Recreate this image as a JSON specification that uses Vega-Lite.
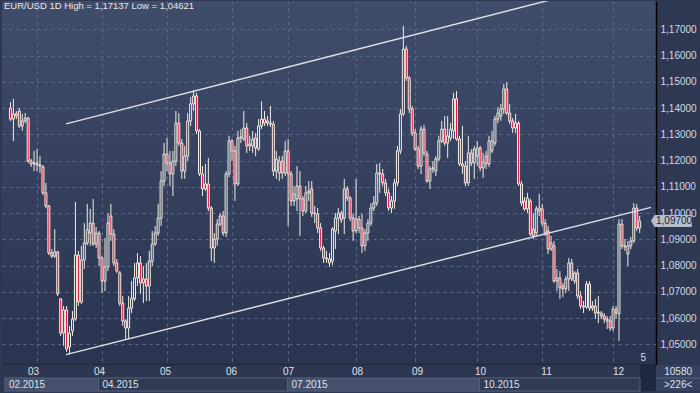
{
"$schema": "https://vega.github.io/schema/vega-lite/v6.json",
"background": "#2e3853",
"padding": {"left": 2, "top": 0, "right": 0, "bottom": 3},
"spacing": 0,
"config": {"view": {"stroke": null}, "font": "Liberation Sans", "axis": {"labelOverlap": false}},
"resolve": {"scale": {"x": "independent", "y": "independent"}},
"datasets": {
"candles": [
{"i":0,"o":1.1400,"h":1.1423,"l":1.1351,"c":1.1358},
{"i":1,"o":1.1358,"h":1.1435,"l":1.1275,"c":1.1378},
{"i":2,"o":1.1378,"h":1.1389,"l":1.1358,"c":1.1370},
{"i":3,"o":1.1389,"h":1.1400,"l":1.1324,"c":1.1332},
{"i":4,"o":1.1332,"h":1.1378,"l":1.1313,"c":1.1351},
{"i":5,"o":1.1351,"h":1.1381,"l":1.1343,"c":1.1362},
{"i":6,"o":1.1362,"h":1.1366,"l":1.1191,"c":1.1198},
{"i":7,"o":1.1198,"h":1.1206,"l":1.1176,"c":1.1187},
{"i":8,"o":1.1187,"h":1.1237,"l":1.1160,"c":1.1191},
{"i":9,"o":1.1191,"h":1.1244,"l":1.1160,"c":1.1183},
{"i":10,"o":1.1183,"h":1.1217,"l":1.1153,"c":1.1179},
{"i":11,"o":1.1176,"h":1.1183,"l":1.1069,"c":1.1077},
{"i":12,"o":1.1077,"h":1.1115,"l":1.1019,"c":1.1027},
{"i":13,"o":1.1027,"h":1.1031,"l":1.0840,"c":1.0848},
{"i":14,"o":1.0848,"h":1.0863,"l":1.0829,"c":1.0836},
{"i":15,"o":1.0836,"h":1.0939,"l":1.0829,"c":1.0852},
{"i":16,"o":1.0852,"h":1.0856,"l":1.0684,"c":1.0692},
{"i":17,"o":1.0673,"h":1.0676,"l":1.0532,"c":1.0543},
{"i":18,"o":1.0543,"h":1.0646,"l":1.0494,"c":1.0631},
{"i":19,"o":1.0631,"h":1.0646,"l":1.0471,"c":1.0482},
{"i":20,"o":1.0490,"h":1.0570,"l":1.04621,"c":1.0543},
{"i":21,"o":1.0551,"h":1.0627,"l":1.0532,"c":1.0596},
{"i":22,"o":1.0596,"h":1.1042,"l":1.0589,"c":1.0840},
{"i":23,"o":1.0840,"h":1.0856,"l":1.0646,"c":1.0661},
{"i":24,"o":1.0661,"h":1.0875,"l":1.0654,"c":1.0821},
{"i":25,"o":1.0821,"h":1.0962,"l":1.0787,"c":1.0886},
{"i":26,"o":1.0886,"h":1.1035,"l":1.0878,"c":1.0936},
{"i":27,"o":1.0924,"h":1.1016,"l":1.0875,"c":1.0962},
{"i":28,"o":1.0962,"h":1.1054,"l":1.0875,"c":1.0882},
{"i":29,"o":1.0882,"h":1.0947,"l":1.0867,"c":1.0924},
{"i":30,"o":1.0924,"h":1.0932,"l":1.0798,"c":1.0829},
{"i":31,"o":1.0829,"h":1.0836,"l":1.0696,"c":1.0741},
{"i":32,"o":1.0741,"h":1.0905,"l":1.0703,"c":1.0795},
{"i":33,"o":1.0795,"h":1.1000,"l":1.0779,"c":1.0962},
{"i":34,"o":1.0989,"h":1.1035,"l":1.0894,"c":1.0920},
{"i":35,"o":1.0920,"h":1.0939,"l":1.0798,"c":1.0810},
{"i":36,"o":1.0810,"h":1.0825,"l":1.0772,"c":1.0779},
{"i":37,"o":1.0772,"h":1.0779,"l":1.0646,"c":1.0657},
{"i":38,"o":1.0657,"h":1.0684,"l":1.0570,"c":1.0589},
{"i":39,"o":1.0589,"h":1.0596,"l":1.0520,"c":1.0562},
{"i":40,"o":1.0562,"h":1.0684,"l":1.0520,"c":1.0638},
{"i":41,"o":1.0638,"h":1.0741,"l":1.0619,"c":1.0676},
{"i":42,"o":1.0673,"h":1.0810,"l":1.0665,"c":1.0753},
{"i":43,"o":1.0753,"h":1.0848,"l":1.0722,"c":1.0810},
{"i":44,"o":1.0810,"h":1.0836,"l":1.0692,"c":1.0734},
{"i":45,"o":1.0734,"h":1.0798,"l":1.0657,"c":1.0749},
{"i":46,"o":1.0749,"h":1.0810,"l":1.0665,"c":1.0722},
{"i":47,"o":1.0722,"h":1.0856,"l":1.0665,"c":1.0817},
{"i":48,"o":1.0817,"h":1.0932,"l":1.0798,"c":1.0882},
{"i":49,"o":1.0882,"h":1.0951,"l":1.0875,"c":1.0924},
{"i":50,"o":1.0924,"h":1.1035,"l":1.0913,"c":1.0981},
{"i":51,"o":1.0981,"h":1.1160,"l":1.0951,"c":1.1122},
{"i":52,"o":1.1122,"h":1.1267,"l":1.1103,"c":1.1225},
{"i":53,"o":1.1225,"h":1.1286,"l":1.1160,"c":1.1191},
{"i":54,"o":1.1191,"h":1.1237,"l":1.1103,"c":1.1149},
{"i":55,"o":1.1149,"h":1.1237,"l":1.1065,"c":1.1198},
{"i":56,"o":1.1198,"h":1.1389,"l":1.1179,"c":1.1343},
{"i":57,"o":1.1343,"h":1.1381,"l":1.1256,"c":1.1267},
{"i":58,"o":1.1267,"h":1.1282,"l":1.1130,"c":1.1160},
{"i":59,"o":1.1160,"h":1.1256,"l":1.1130,"c":1.1217},
{"i":60,"o":1.1217,"h":1.1381,"l":1.1198,"c":1.1351},
{"i":61,"o":1.1351,"h":1.1442,"l":1.1332,"c":1.1416},
{"i":62,"o":1.1416,"h":1.1469,"l":1.1389,"c":1.1446},
{"i":63,"o":1.1446,"h":1.1458,"l":1.1301,"c":1.1313},
{"i":64,"o":1.1313,"h":1.1320,"l":1.1141,"c":1.1149},
{"i":65,"o":1.1149,"h":1.1179,"l":1.1065,"c":1.1092},
{"i":66,"o":1.1092,"h":1.1187,"l":1.1084,"c":1.1111},
{"i":67,"o":1.1111,"h":1.1210,"l":1.1008,"c":1.1019},
{"i":68,"o":1.1019,"h":1.1027,"l":1.0817,"c":1.0867},
{"i":69,"o":1.0867,"h":1.0924,"l":1.0810,"c":1.0901},
{"i":70,"o":1.0901,"h":1.0977,"l":1.0875,"c":1.0958},
{"i":71,"o":1.0958,"h":1.1000,"l":1.0951,"c":1.0989},
{"i":72,"o":1.0989,"h":1.1008,"l":1.0913,"c":1.0924},
{"i":73,"o":1.0924,"h":1.1160,"l":1.0909,"c":1.1149},
{"i":74,"o":1.1149,"h":1.1294,"l":1.1137,"c":1.1275},
{"i":75,"o":1.1275,"h":1.1282,"l":1.1198,"c":1.1237},
{"i":76,"o":1.1237,"h":1.1256,"l":1.1046,"c":1.1111},
{"i":77,"o":1.1111,"h":1.1313,"l":1.1103,"c":1.1286},
{"i":78,"o":1.1286,"h":1.1320,"l":1.1267,"c":1.1290},
{"i":79,"o":1.1282,"h":1.1389,"l":1.1275,"c":1.1324},
{"i":80,"o":1.1324,"h":1.1343,"l":1.1229,"c":1.1256},
{"i":81,"o":1.1256,"h":1.1294,"l":1.1237,"c":1.1263},
{"i":82,"o":1.1256,"h":1.1313,"l":1.1229,"c":1.1282},
{"i":83,"o":1.1286,"h":1.1305,"l":1.1217,"c":1.1248},
{"i":84,"o":1.1244,"h":1.1358,"l":1.1237,"c":1.1332},
{"i":85,"o":1.1332,"h":1.1427,"l":1.1320,"c":1.1358},
{"i":86,"o":1.1358,"h":1.1389,"l":1.1332,"c":1.1343},
{"i":87,"o":1.1351,"h":1.1370,"l":1.1332,"c":1.1343},
{"i":88,"o":1.1339,"h":1.1408,"l":1.1328,"c":1.1343},
{"i":89,"o":1.1339,"h":1.1351,"l":1.1141,"c":1.1160},
{"i":90,"o":1.1160,"h":1.1237,"l":1.1130,"c":1.1206},
{"i":91,"o":1.1153,"h":1.1217,"l":1.1122,"c":1.1198},
{"i":92,"o":1.1198,"h":1.1217,"l":1.1130,"c":1.1153},
{"i":93,"o":1.1153,"h":1.1275,"l":1.1141,"c":1.1237},
{"i":94,"o":1.1237,"h":1.1282,"l":1.0951,"c":1.1149},
{"i":95,"o":1.1149,"h":1.1160,"l":1.1027,"c":1.1046},
{"i":96,"o":1.1046,"h":1.1103,"l":1.1027,"c":1.1073},
{"i":97,"o":1.1054,"h":1.1179,"l":1.1008,"c":1.1103},
{"i":98,"o":1.1103,"h":1.1160,"l":1.0913,"c":1.1054},
{"i":99,"o":1.1054,"h":1.1065,"l":1.0989,"c":1.1008},
{"i":100,"o":1.1008,"h":1.1103,"l":1.1000,"c":1.1077},
{"i":101,"o":1.1077,"h":1.1122,"l":1.1046,"c":1.1084},
{"i":102,"o":1.1092,"h":1.1122,"l":1.0985,"c":1.1000},
{"i":103,"o":1.1000,"h":1.1027,"l":1.0962,"c":1.0997},
{"i":104,"o":1.0997,"h":1.1019,"l":1.0924,"c":1.0943},
{"i":105,"o":1.0943,"h":1.0962,"l":1.0856,"c":1.0867},
{"i":106,"o":1.0867,"h":1.0875,"l":1.0810,"c":1.0829},
{"i":107,"o":1.0829,"h":1.0856,"l":1.0810,"c":1.0825},
{"i":108,"o":1.0810,"h":1.0848,"l":1.0795,"c":1.0825},
{"i":109,"o":1.0817,"h":1.0947,"l":1.0802,"c":1.0939},
{"i":110,"o":1.0932,"h":1.1000,"l":1.0863,"c":1.0981},
{"i":111,"o":1.0981,"h":1.1019,"l":1.0920,"c":1.1000},
{"i":112,"o":1.1000,"h":1.1008,"l":1.0962,"c":1.0974},
{"i":113,"o":1.0981,"h":1.1130,"l":1.0920,"c":1.1092},
{"i":114,"o":1.1092,"h":1.1103,"l":1.1046,"c":1.1057},
{"i":115,"o":1.1057,"h":1.1065,"l":1.0970,"c":1.0981},
{"i":116,"o":1.0981,"h":1.0997,"l":1.0894,"c":1.0932},
{"i":117,"o":1.0932,"h":1.1130,"l":1.0924,"c":1.0977},
{"i":118,"o":1.0977,"h":1.0989,"l":1.0924,"c":1.0943},
{"i":119,"o":1.0943,"h":1.0997,"l":1.0848,"c":1.0875},
{"i":120,"o":1.0875,"h":1.0939,"l":1.0856,"c":1.0924},
{"i":121,"o":1.0924,"h":1.0977,"l":1.0894,"c":1.0962},
{"i":122,"o":1.0962,"h":1.1038,"l":1.0951,"c":1.1019},
{"i":123,"o":1.1019,"h":1.1065,"l":1.1008,"c":1.1038},
{"i":124,"o":1.1038,"h":1.1187,"l":1.1027,"c":1.1153},
{"i":125,"o":1.1153,"h":1.1191,"l":1.1077,"c":1.1149},
{"i":126,"o":1.1149,"h":1.1168,"l":1.1103,"c":1.1115},
{"i":127,"o":1.1115,"h":1.1130,"l":1.1065,"c":1.1077},
{"i":128,"o":1.1077,"h":1.1092,"l":1.1008,"c":1.1019},
{"i":129,"o":1.1019,"h":1.1065,"l":1.1000,"c":1.1046},
{"i":130,"o":1.1046,"h":1.1130,"l":1.1016,"c":1.1115},
{"i":131,"o":1.1115,"h":1.1256,"l":1.1103,"c":1.1237},
{"i":132,"o":1.1237,"h":1.1397,"l":1.1225,"c":1.1378},
{"i":133,"o":1.1378,"h":1.17137,"l":1.1370,"c":1.1625},
{"i":134,"o":1.1625,"h":1.1637,"l":1.1503,"c":1.1515},
{"i":135,"o":1.1515,"h":1.1522,"l":1.1381,"c":1.1397},
{"i":136,"o":1.1397,"h":1.1408,"l":1.1294,"c":1.1305},
{"i":137,"o":1.1305,"h":1.1320,"l":1.1237,"c":1.1244},
{"i":138,"o":1.1244,"h":1.1256,"l":1.1168,"c":1.1179},
{"i":139,"o":1.1179,"h":1.1332,"l":1.1149,"c":1.1320},
{"i":140,"o":1.1320,"h":1.1336,"l":1.1217,"c":1.1229},
{"i":141,"o":1.1225,"h":1.1237,"l":1.1115,"c":1.1122},
{"i":142,"o":1.1122,"h":1.1179,"l":1.1092,"c":1.1168},
{"i":143,"o":1.1168,"h":1.1198,"l":1.1153,"c":1.1172},
{"i":144,"o":1.1160,"h":1.1217,"l":1.1141,"c":1.1206},
{"i":145,"o":1.1206,"h":1.1294,"l":1.1198,"c":1.1275},
{"i":146,"o":1.1275,"h":1.1351,"l":1.1267,"c":1.1320},
{"i":147,"o":1.1320,"h":1.1370,"l":1.1256,"c":1.1267},
{"i":148,"o":1.1267,"h":1.1370,"l":1.1210,"c":1.1294},
{"i":149,"o":1.1286,"h":1.1343,"l":1.1275,"c":1.1320},
{"i":150,"o":1.1313,"h":1.1458,"l":1.1282,"c":1.1435},
{"i":151,"o":1.1435,"h":1.1465,"l":1.1275,"c":1.1282},
{"i":152,"o":1.1282,"h":1.1294,"l":1.1179,"c":1.1187},
{"i":153,"o":1.1187,"h":1.1332,"l":1.1149,"c":1.1179},
{"i":154,"o":1.1179,"h":1.1198,"l":1.1103,"c":1.1115},
{"i":155,"o":1.1115,"h":1.1294,"l":1.1103,"c":1.1229},
{"i":156,"o":1.1229,"h":1.1244,"l":1.1179,"c":1.1191},
{"i":157,"o":1.1191,"h":1.1256,"l":1.1130,"c":1.1244},
{"i":158,"o":1.1217,"h":1.1275,"l":1.1179,"c":1.1248},
{"i":159,"o":1.1248,"h":1.1256,"l":1.1160,"c":1.1172},
{"i":160,"o":1.1172,"h":1.1229,"l":1.1134,"c":1.1195},
{"i":161,"o":1.1217,"h":1.1237,"l":1.1168,"c":1.1187},
{"i":162,"o":1.1187,"h":1.1294,"l":1.1176,"c":1.1275},
{"i":163,"o":1.1237,"h":1.1313,"l":1.1229,"c":1.1275},
{"i":164,"o":1.1267,"h":1.1370,"l":1.1256,"c":1.1358},
{"i":165,"o":1.1358,"h":1.1404,"l":1.1343,"c":1.1381},
{"i":166,"o":1.1370,"h":1.1416,"l":1.1351,"c":1.1397},
{"i":167,"o":1.1397,"h":1.1492,"l":1.1378,"c":1.1473},
{"i":168,"o":1.1473,"h":1.1499,"l":1.1374,"c":1.1381},
{"i":169,"o":1.1381,"h":1.1416,"l":1.1339,"c":1.1351},
{"i":170,"o":1.1351,"h":1.1362,"l":1.1305,"c":1.1324},
{"i":171,"o":1.1324,"h":1.1378,"l":1.1305,"c":1.1343},
{"i":172,"o":1.1343,"h":1.1351,"l":1.1103,"c":1.1111},
{"i":173,"o":1.1111,"h":1.1122,"l":1.1027,"c":1.1038},
{"i":174,"o":1.1046,"h":1.1061,"l":1.1008,"c":1.1016},
{"i":175,"o":1.1016,"h":1.1077,"l":1.1000,"c":1.1057},
{"i":176,"o":1.1046,"h":1.1054,"l":1.0913,"c":1.0920},
{"i":177,"o":1.0939,"h":1.1000,"l":1.0901,"c":1.0913},
{"i":178,"o":1.0924,"h":1.1027,"l":1.0913,"c":1.1016},
{"i":179,"o":1.1008,"h":1.1073,"l":1.0989,"c":1.1019},
{"i":180,"o":1.1016,"h":1.1035,"l":1.0951,"c":1.0962},
{"i":181,"o":1.0962,"h":1.0977,"l":1.0913,"c":1.0924},
{"i":182,"o":1.0932,"h":1.0951,"l":1.0844,"c":1.0863},
{"i":183,"o":1.0863,"h":1.0913,"l":1.0856,"c":1.0886},
{"i":184,"o":1.0875,"h":1.0894,"l":1.0734,"c":1.0741},
{"i":185,"o":1.0741,"h":1.0787,"l":1.0703,"c":1.0753},
{"i":186,"o":1.0753,"h":1.0779,"l":1.0673,"c":1.0715},
{"i":187,"o":1.0722,"h":1.0734,"l":1.0680,"c":1.0711},
{"i":188,"o":1.0711,"h":1.0760,"l":1.0696,"c":1.0749},
{"i":189,"o":1.0749,"h":1.0829,"l":1.0703,"c":1.0810},
{"i":190,"o":1.0810,"h":1.0825,"l":1.0741,"c":1.0749},
{"i":191,"o":1.0741,"h":1.0779,"l":1.0730,"c":1.0772},
{"i":192,"o":1.0772,"h":1.0787,"l":1.0673,"c":1.0684},
{"i":193,"o":1.0684,"h":1.0703,"l":1.0635,"c":1.0646},
{"i":194,"o":1.0646,"h":1.0665,"l":1.0619,"c":1.0642},
{"i":195,"o":1.0642,"h":1.0741,"l":1.0635,"c":1.0730},
{"i":196,"o":1.0730,"h":1.0741,"l":1.0627,"c":1.0638},
{"i":197,"o":1.0638,"h":1.0665,"l":1.0627,"c":1.0646},
{"i":198,"o":1.0646,"h":1.0673,"l":1.0596,"c":1.0619},
{"i":199,"o":1.0619,"h":1.0684,"l":1.0581,"c":1.0623},
{"i":200,"o":1.0619,"h":1.0627,"l":1.0596,"c":1.0608},
{"i":201,"o":1.0608,"h":1.0619,"l":1.0581,"c":1.0596},
{"i":202,"o":1.0596,"h":1.0608,"l":1.0558,"c":1.0589},
{"i":203,"o":1.0589,"h":1.0608,"l":1.0551,"c":1.0562},
{"i":204,"o":1.0562,"h":1.0646,"l":1.0551,"c":1.0635},
{"i":205,"o":1.0631,"h":1.0646,"l":1.0596,"c":1.0619},
{"i":206,"o":1.0616,"h":1.0977,"l":1.0513,"c":1.0958},
{"i":207,"o":1.0958,"h":1.0977,"l":1.0863,"c":1.0875},
{"i":208,"o":1.0875,"h":1.0901,"l":1.0856,"c":1.0871},
{"i":209,"o":1.0844,"h":1.0894,"l":1.0798,"c":1.0875},
{"i":210,"o":1.0875,"h":1.0909,"l":1.0863,"c":1.0894},
{"i":211,"o":1.0894,"h":1.1038,"l":1.0886,"c":1.1019},
{"i":212,"o":1.1019,"h":1.1035,"l":1.0932,"c":1.0943},
{"i":213,"o":1.0943,"h":1.0989,"l":1.0924,"c":1.0970}
],
"channel": [
{"line":"upper","i":18.8,"p":1.1340},
{"line":"upper","i":199.7,"p":1.1861},
{"line":"lower","i":18.8,"p":1.0461},
{"line":"lower","i":216.833,"p":1.1022}
],
"last": [{"i":216.833,"p":1.097,"label":"1,09700"}],
"scroll": [{"i":213.3,"p":1.0448,"label":"5"}],
"months": [
{"label":"03","i":9},{"label":"04","i":31},{"label":"05","i":53},{"label":"06","i":75},{"label":"07","i":94},
{"label":"08","i":117},{"label":"09","i":137},{"label":"10","i":158},{"label":"11","i":180},{"label":"12","i":204}
],
"periods": [
{"label":"02.2015","a":-0.2,"b":31,"k":0},
{"label":"04.2015","a":31,"b":94,"k":1},
{"label":"07.2015","a":94,"b":158,"k":2},
{"label":"10.2015","a":158,"b":211.5,"k":3}
],
"blocks": [
{"a":211.5,"b":216.833,"tone":"dark"},
{"a":216.833,"b":231.5,"tone":"panel"}
],
"panel": [
{"label":"10580","r":1.5},
{"label":">226<","r":0.5}
]
},
"vconcat": [
{
"width": 654,
"height": 364,
"view": {"fill": {"gradient":"linear","x1":0,"y1":0,"x2":0,"y2":1,"stops":[{"offset":0,"color":"#404d6a"},{"offset":0.5,"color":"#34405d"},{"offset":1,"color":"#2a3450"}]}, "stroke": null},
"title": {"text":"EUR/USD 1D High = 1,17137 Low = 1,04621","anchor":"start","frame":"group","orient":"top","offset":-14,"baseline":"middle","dx":2,"fontSize":9.5,"fontWeight":"normal","color":"#e6eaf1","font":"Liberation Sans"},
"layer": [
{
"data": {"name":"candles"},
"mark": {"type":"rule","color":"#f2ece2","strokeWidth":1},
"encoding": {
"x": {"field":"i","type":"quantitative","scale":{"domain":[-1.1667,216.833],"nice":false,"zero":false},
"axis":{"values":[9,31,53,75,94,117,137,158,180,204],"tickCount":30,"labels":false,"ticks":false,"grid":true,"gridDash":[3,4],"gridColor":"#5e6c8a","gridWidth":1,"domain":true,"domainColor":"#000000","domainWidth":1.5,"title":null}},
"y": {"field":"l","type":"quantitative","scale":{"domain":[1.04212,1.1808],"nice":false,"zero":false},
"axis":{"orient":"right","values":[1.05,1.06,1.07,1.08,1.09,1.10,1.11,1.12,1.13,1.14,1.15,1.16,1.17],"tickCount":30,"labelExpr":"replace(format(datum.value,'.5f'),'.',',')","labelOverlap":false,"labelFlush":false,"labelPadding":4,"labelAlign":"left","ticks":false,"grid":true,"gridDash":[3,4],"gridColor":"#5e6c8a","gridWidth":1,"domain":true,"domainColor":"#000000","domainWidth":1.5,"labelColor":"#d5dae4","labelFontSize":10,"labelFont":"Liberation Sans","title":null}},
"y2": {"field":"h"}
}
},
{
"data": {"name":"candles"},
"mark": {"type":"bar","size":2,"stroke":"#f2ece2","strokeWidth":1},
"encoding": {
"x": {"field":"i","type":"quantitative"},
"y": {"field":"o","type":"quantitative"},
"y2": {"field":"c"},
"fill": {"condition":{"test":"datum.c < datum.o","value":"#e5113c"},"value":"#34405d"}
}
},
{
"data": {"name":"channel"},
"mark": {"type":"line","color":"#dde1e9","strokeWidth":1.4,"clip":true},
"encoding": {
"x": {"field":"i","type":"quantitative"},
"y": {"field":"p","type":"quantitative"},
"detail": {"field":"line"}
}
},
{
"data": {"name":"last"},
"mark": {"type":"point","shape":"M0,0 L0.6,-1 L6.8,-1 L6.8,1 L0.6,1 Z","size":144,"filled":true,"color":"#b6becc","opacity":1},
"encoding": {
"x": {"field":"i","type":"quantitative"},
"y": {"field":"p","type":"quantitative"}
}
},
{
"data": {"name":"last"},
"mark": {"type":"text","align":"left","baseline":"middle","dx":5,"fontSize":10,"color":"#1d2538","font":"Liberation Sans"},
"encoding": {
"x": {"field":"i","type":"quantitative"},
"y": {"field":"p","type":"quantitative"},
"text": {"field":"label"}
}
},
{
"data": {"name":"scroll"},
"mark": {"type":"text","align":"left","baseline":"middle","fontSize":10,"color":"#d5dae4","font":"Liberation Sans"},
"encoding": {
"x": {"field":"i","type":"quantitative"},
"y": {"field":"p","type":"quantitative"},
"text": {"field":"label"}
}
}
]
},
{
"width": 698,
"height": 26,
"view": {"fill": "#2d3752", "stroke": null},
"layer": [
{
"data": {"name":"blocks"},
"mark": {"type":"rect"},
"encoding": {
"x": {"field":"a","type":"quantitative","scale":{"domain":[-1.1667,231.5],"nice":false,"zero":false},"axis":null},
"x2": {"field":"b"},
"y": {"datum":0,"type":"quantitative","scale":{"domain":[0,2],"nice":false,"zero":false},"axis":null},
"y2": {"datum":2},
"fill": {"field":"tone","type":"nominal","scale":{"domain":["dark","panel"],"range":["#1f2840","#35415e"]},"legend":null}
}
},
{
"data": {"name":"periods"},
"mark": {"type":"rect","stroke":"#56627d","strokeWidth":1},
"encoding": {
"x": {"field":"a","type":"quantitative"},
"x2": {"field":"b"},
"y": {"datum":0,"type":"quantitative"},
"y2": {"datum":1},
"fill": {"condition":{"test":"datum.k % 2 == 0","value":"#44506c"},"value":"#2f3a55"}
}
},
{
"data": {"name":"blocks"},
"transform": [{"filter":"datum.tone == 'panel'"}],
"mark": {"type":"rule","color":"#56627d","strokeWidth":1},
"encoding": {
"x": {"field":"a","type":"quantitative"},
"x2": {"field":"b"},
"y": {"datum":1,"type":"quantitative"}
}
},
{
"data": {"name":"months"},
"mark": {"type":"text","align":"center","baseline":"middle","dx":1,"fontSize":10,"color":"#dfe3ea","font":"Liberation Sans"},
"encoding": {
"x": {"field":"i","type":"quantitative"},
"y": {"datum":1.5,"type":"quantitative"},
"text": {"field":"label"}
}
},
{
"data": {"name":"periods"},
"mark": {"type":"text","align":"left","baseline":"middle","dx":4,"fontSize":10,"color":"#dfe3ea","font":"Liberation Sans"},
"encoding": {
"x": {"field":"a","type":"quantitative"},
"y": {"datum":0.5,"type":"quantitative"},
"text": {"field":"label"}
}
},
{
"data": {"name":"panel"},
"mark": {"type":"text","align":"center","baseline":"middle","fontSize":10,"color":"#dfe3ea","font":"Liberation Sans"},
"encoding": {
"x": {"datum":224.2,"type":"quantitative"},
"y": {"field":"r","type":"quantitative"},
"text": {"field":"label"}
}
}
]
}
]
}
